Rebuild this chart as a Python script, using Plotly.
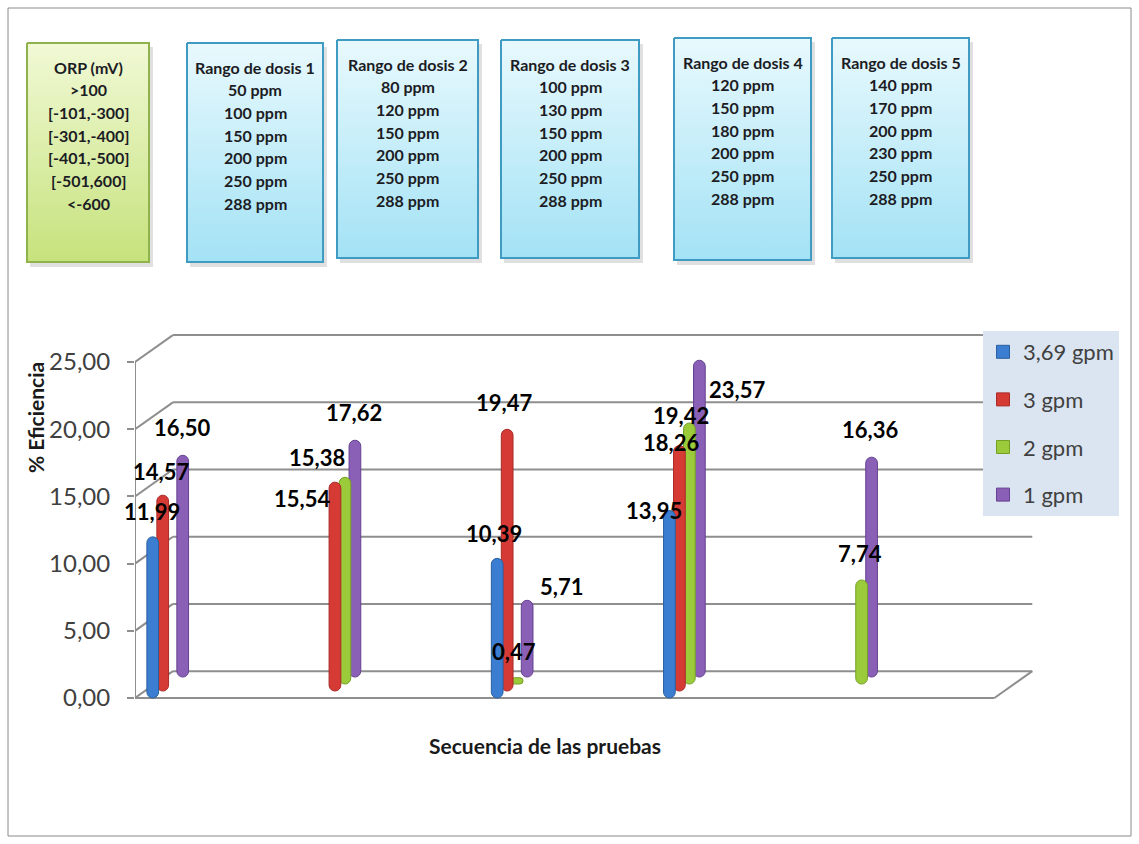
import plotly.graph_objects as go

# ---------------- data ----------------
tests = ["1", "2", "3", "4", "5"]
series_names = ["3,69 gpm", "3 gpm", "2 gpm", "1 gpm"]
eff_369 = [11.99, None, 10.39, 13.95, None]
eff_3 = [14.57, 15.54, 19.47, 18.26, None]
eff_2 = [None, 15.38, 0.47, 19.42, 7.74]
eff_1 = [16.50, 17.62, 5.71, 23.57, 16.36]
y_ticks = [0, 5, 10, 15, 20, 25]

orp_title = "ORP (mV)"
orp_ranges = [">100", "[-101,-300]", "[-301,-400]", "[-401,-500]", "[-501,600]", "<-600"]
dose_titles = ["Rango de dosis 1", "Rango de dosis 2", "Rango de dosis 3",
               "Rango de dosis 4", "Rango de dosis 5"]
dose_1 = ["50 ppm", "100 ppm", "150 ppm", "200 ppm", "250 ppm", "288 ppm"]
dose_2 = ["80 ppm", "120 ppm", "150 ppm", "200 ppm", "250 ppm", "288 ppm"]
dose_3 = ["100 ppm", "130 ppm", "150 ppm", "200 ppm", "250 ppm", "288 ppm"]
dose_4 = ["120 ppm", "150 ppm", "180 ppm", "200 ppm", "250 ppm", "288 ppm"]
dose_5 = ["140 ppm", "170 ppm", "200 ppm", "230 ppm", "250 ppm", "288 ppm"]

# ---------------- styles / layout constants ----------------
W, H = 1139, 844
FONT = "Lato"
colors = ["#3b7dd0", "#d63a35", "#9bcb3a", "#8a5fb6"]
edge_colors = ["#2a5f9e", "#a82a26", "#74a025", "#654291"]
X0, X1 = -0.19, 4.80       # front-left / front-right of floor (category units)
DX, DY = 0.22, 2.0          # depth offset of back wall
BASE_STEP = 0.52            # visual depth lift per series
SLOT = 0.058                # spacing between series within a group
BW = 0.068                  # bar width
# label offsets (px, screen: dx right, dy down) relative to bar top
label_off = [
    [(-1, -25), None, (-3, -25), (-15, 0), None],
    [(-2, -24), (-33, 16), (-3, -27), (-8, -3), None],
    [None, (-28, -20), (-3, -26), (-8, -8), (-2, -27)],
    [(-1, -28), (-1, -28), (34, -14), (38, 29), (-2, -28)],
]
GRID = "#8e8e8e"


def fx(px):
    return px / W


def fy(py):
    return 1 - py / H


series = [eff_369, eff_3, eff_2, eff_1]
fig = go.Figure()

# bars: draw back series first so front ones overlap them
for i in reversed(range(4)):
    base = i * BASE_STEP
    fig.add_trace(go.Bar(
        x=tests, y=series[i], base=[base] * len(tests), name=series_names[i],
        width=BW, offset=(i - 1.5) * SLOT - BW / 2,
        marker=dict(color=colors[i], line=dict(color=edge_colors[i], width=1),
                    cornerradius=6),
        customdata=series[i],
        hovertemplate=series_names[i] + ": %{customdata:.2f}<extra></extra>",
        showlegend=False,
    ))
# legend entries (square keys like the original)
for i in range(4):
    fig.add_trace(go.Scatter(
        x=[None], y=[None], mode="markers", name=series_names[i],
        marker=dict(symbol="square", size=13, color=colors[i],
                    line=dict(color=edge_colors[i], width=1)),
        legendgroup=series_names[i], legendrank=i + 1))

shapes = []
# back wall gridlines & left wall diagonals
for v in y_ticks:
    shapes.append(dict(type="line", xref="x", yref="y", x0=X0 + DX, x1=X1 + DX,
                       y0=v + DY, y1=v + DY, line=dict(color=GRID, width=2), layer="below"))
    shapes.append(dict(type="line", xref="x", yref="y", x0=X0, x1=X0 + DX,
                       y0=v, y1=v + DY, line=dict(color=GRID, width=2), layer="below"))
# front vertical axis
shapes.append(dict(type="line", xref="x", yref="y", x0=X0, x1=X0, y0=0, y1=max(y_ticks),
                   line=dict(color=GRID, width=2), layer="below"))
# floor front edge and right diagonal
shapes.append(dict(type="line", xref="x", yref="y", x0=X0, x1=X1, y0=0, y1=0,
                   line=dict(color=GRID, width=2), layer="below"))
shapes.append(dict(type="line", xref="x", yref="y", x0=X1, x1=X1 + DX, y0=0, y1=DY,
                   line=dict(color=GRID, width=2), layer="below"))
# outer frame
shapes.append(dict(type="rect", xref="paper", yref="paper", x0=fx(8), x1=fx(1131),
                   y0=fy(836), y1=fy(8), line=dict(color="#8a8a8a", width=1), layer="below"))

annotations = []
# data labels
for i in range(4):
    for g in range(len(tests)):
        v = series[i][g]
        if v is None:
            continue
        dx, dy = label_off[i][g]
        annotations.append(dict(
            x=g + (i - 1.5) * SLOT, y=i * BASE_STEP + v, xref="x", yref="y",
            text=f"{v:.2f}".replace(".", ","), showarrow=False,
            xshift=dx, yshift=-dy, xanchor="center", yanchor="middle",
            font=dict(family=FONT, size=22, color="#000000", weight="bold")))

# axis titles
annotations.append(dict(x=fx(35), y=fy(418), xref="paper", yref="paper", text="% Eficiencia",
                        textangle=-90, showarrow=False, xanchor="center", yanchor="middle",
                        font=dict(family=FONT, size=21, color="#1a1a1a", weight="bold")))
annotations.append(dict(x=fx(545), y=fy(745), xref="paper", yref="paper",
                        text="Secuencia de las pruebas", showarrow=False,
                        xanchor="center", yanchor="middle",
                        font=dict(family=FONT, size=21, color="#1a1a1a", weight="bold")))

# info boxes at top
boxes = [
    ((27, 43, 149, 262), orp_title, orp_ranges, "green"),
    ((187, 43, 323, 262), dose_titles[0], dose_1, "cyan"),
    ((337, 40, 478, 258), dose_titles[1], dose_2, "cyan"),
    ((501, 40, 639, 258), dose_titles[2], dose_3, "cyan"),
    ((674, 38, 811, 260), dose_titles[3], dose_4, "cyan"),
    ((832, 38, 969, 258), dose_titles[4], dose_5, "cyan"),
]
box_style = {
    "green": dict(top="#f1f9d6", bottom="#c6e27c", line="#8fb24c"),
    "cyan": dict(top="#e8f9fd", bottom="#a3e2f5", line="#3f9bc1"),
}
for (x0, y0, x1, y1), title, lines, kind in boxes:
    st = box_style[kind]
    # shadow
    fig.add_trace(go.Scatter(
        x=[x0 + 3, x1 + 4, x1 + 4, x0 + 3, x0 + 3], y=[y0 + 4, y0 + 4, y1 + 5, y1 + 5, y0 + 4],
        xaxis="x2", yaxis="y2", mode="lines", fill="toself", fillcolor="rgba(0,0,0,0.12)",
        line=dict(width=0), showlegend=False, hoverinfo="skip"))
    fig.add_trace(go.Scatter(
        x=[x0, x1, x1, x0, x0], y=[y0, y0, y1, y1, y0], xaxis="x2", yaxis="y2",
        mode="lines", fill="toself",
        fillgradient=dict(type="vertical", colorscale=[[0, st["bottom"]], [1, st["top"]]]),
        line=dict(color=st["line"], width=2), showlegend=False, hoverinfo="skip"))
    cx = (x0 + x1) / 2
    ty = y0 + 24
    annotations.append(dict(x=fx(cx), y=fy(ty), xref="paper", yref="paper", text=title,
                            showarrow=False, xanchor="center", yanchor="middle",
                            font=dict(family=FONT, size=16, color="#1c1c24", weight="bold")))
    for k, ln in enumerate(lines):
        annotations.append(dict(x=fx(cx), y=fy(ty + 22.7 * (k + 1)), xref="paper", yref="paper",
                                text=ln, showarrow=False, xanchor="center", yanchor="middle",
                                font=dict(family=FONT, size=16, color="#1c1c24", weight="bold")))

fig.update_layout(
    width=W, height=H, autosize=False,
    margin=dict(l=0, r=0, t=0, b=0, pad=0, autoexpand=False),
    paper_bgcolor="white", plot_bgcolor="rgba(0,0,0,0)",
    separators=",.",
    font=dict(family=FONT, color="#404040"),
    barmode="overlay",
    xaxis=dict(domain=[fx(135), fx(1034)], range=[-0.19, 5.03], type="category",
               showticklabels=False, showgrid=False, zeroline=False, showline=False,
               ticks="", fixedrange=True, automargin=False),
    yaxis=dict(domain=[fy(705), fy(330)], range=[-0.52, 27.38], tickvals=y_ticks,
               tickformat=".2f", showgrid=False, zeroline=False, showline=False,
               ticks="outside", ticklen=7, tickcolor=GRID, tickwidth=2,
               ticklabelstandoff=12, automargin=False,
               tickfont=dict(family=FONT, size=24, color="#404040"), fixedrange=True),
    xaxis2=dict(domain=[0, 1], range=[0, W], visible=False, anchor="y2", fixedrange=True,
                automargin=False),
    yaxis2=dict(domain=[0, 1], range=[H, 0], visible=False, anchor="x2", fixedrange=True,
                automargin=False),
    legend=dict(x=fx(983), y=fy(331), xanchor="left", yanchor="top",
                bgcolor="#dbe5f1", borderwidth=0, traceorder="grouped",
                font=dict(family=FONT, size=22, color="#404040"),
                itemwidth=30, tracegroupgap=16),
    shapes=shapes, annotations=annotations,
    showlegend=True,
)

fig.write_html("out.html")
